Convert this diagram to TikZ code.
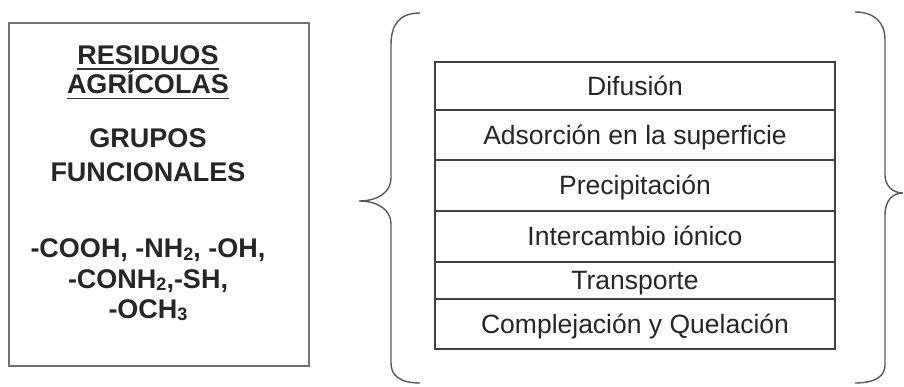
\documentclass[tikz,border=0pt]{standalone}
\usepackage{fontspec}
\setmainfont{Liberation Sans}
\usepackage{tikz}
\usetikzlibrary{positioning}

\newcommand{\chemsub}[1]{\raisebox{-2.5pt}{\fontsize{18}{18}\selectfont #1}}

\begin{document}
\begin{tikzpicture}[x=1pt, y=-1pt]
% Define block styles
\tikzstyle{panel} = [rectangle, draw=black!55, line width=1.8pt,
    minimum width=300pt, minimum height=343pt, inner sep=0pt, outer sep=0pt]
\tikzstyle{title} = [font=\fontsize{27}{30}\selectfont\bfseries, text=black!85,
    inner sep=0pt, anchor=base]
\tikzstyle{row} = [rectangle, draw=black!75, line width=1.3pt,
    font=\fontsize{26.5}{30}\selectfont, text=black!85,
    text height=24pt, text depth=5.6pt,
    minimum width=400pt, inner sep=0pt, outer sep=0pt]
\tikzstyle{brace} = [draw=black!65, line width=1.4pt]
\tikzstyle{uline} = [draw=black!80, line width=1.8pt]
    \useasboundingbox (0,0) rectangle (904,387);
    % Left panel
    \node [panel] (residuos) at (159,194.5) {};
    \node [title] (res1) at (148,65) {RESIDUOS};
    \node [title] (res2) at (148,94) {AGRÍCOLAS};
    \node [title] (grupos1) at (148,148) {GRUPOS};
    \node [title] (grupos2) at (148,182) {FUNCIONALES};
    \node [title] (quim1) at (148,258) {-COOH, -NH\chemsub{2}, -OH,};
    \node [title] (quim2) at (148,288) {-CONH\chemsub{2},-SH,};
    \node [title] (quim3) at (148,318) {-OCH\chemsub{3}};
    \path [uline] ([yshift=-4pt]res1.base west) -- ([yshift=-4pt]res1.base east);
    \path [uline] ([yshift=-4.5pt]res2.base west) -- ([yshift=-4.5pt]res2.base east);
    % Mechanisms table
    \node [row, minimum height=48pt, anchor=north] (difusion) at (635,62) {Difusión};
    \node [row, minimum height=50pt, below=0pt of difusion] (adsorcion) {Adsorción en la superficie};
    \node [row, minimum height=51pt, below=0pt of adsorcion] (precipitacion) {Precipitación};
    \node [row, minimum height=51pt, below=0pt of precipitacion] (intercambio) {Intercambio iónico};
    \node [row, minimum height=37pt, below=0pt of intercambio] (transporte) {Transporte};
    \node [row, minimum height=50pt, below=0pt of transporte] (complejacion) {Complejación y Quelación};
    % Braces
    \path [brace] (420,13) .. controls (399,13) and (391,25) .. (391,45)
        -- (391,178) .. controls (391,192) and (378,201) .. (359,201)
        .. controls (378,201) and (391,210) .. (391,224)
        -- (391,363) .. controls (391,375) and (399,383) .. (420,383);
    \path [brace] (855,12) .. controls (874,12) and (885,22) .. (885,40)
        -- (885,175) .. controls (885,186) and (893,193) .. (903,193)
        .. controls (893,193) and (885,200) .. (885,215)
        -- (885,365) .. controls (885,377) and (874,383) .. (855,383);
\end{tikzpicture}
\end{document}
